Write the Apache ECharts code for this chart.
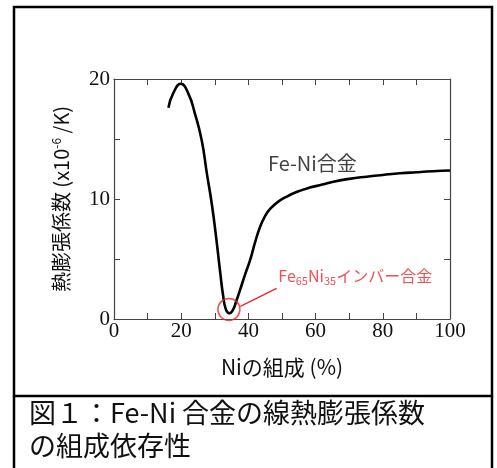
<!DOCTYPE html>
<html><head><meta charset="utf-8">
<script src="https://cdn.jsdelivr.net/npm/echarts@6/dist/echarts.min.js"></script>
<style>html,body{margin:0;padding:0;background:#fff}#c{width:497px;height:468px}</style>
</head><body><div id="c"></div>
<script>
// Ni composition (%) and thermal expansion coefficient (x10^-6 /K)
const niPercent = [16.2, 17.6, 19.9, 22.1, 24.1, 26.1, 27.6, 29.1, 30.4, 31.6, 32.5, 33.3, 34.3, 35.3, 36.4, 37.5, 39, 40.5, 42, 43.5, 45, 46.4, 48.5, 51.4, 54.5, 58.3, 62, 65.3, 70, 75.2, 80, 85.1, 90, 95, 100];
const cte       = [17.6, 18.8, 19.6, 18.8, 17.1, 14.9, 12.2, 9.6, 6.8, 3.9, 1.9, 0.8, 0.47, 0.7, 1.5, 2.4, 3.7, 4.9, 6.4, 7.7, 8.6, 9.15, 9.7, 10.2, 10.6, 10.95, 11.2, 11.44, 11.68, 11.86, 12.0, 12.14, 12.23, 12.31, 12.37];
const xTicks = [0, 20, 40, 60, 80, 100];
const yTicks = [0, 10, 20];
const invarPoint = [34.2, 0.8];
const leader = [[37.6, 1.05], [48.4, 2.55]];
const invarLabelPos = [48.9, 3.55];
const feNiLabelPos = [45.8, 12.97];
const titleLines = ['図１：Fe-Ni 合金の線熱膨張係数', 'の組成依存性'];

const chart = echarts.init(document.getElementById('c'), null, {renderer: 'canvas'});
const serif = 'Liberation Serif';
const sans = 'Noto Sans CJK JP';
const axisCol = '#444';
const baseAxis = {
  type: 'value', min: 0,
  axisLine: {show: true, onZero: false, lineStyle: {color: axisCol, width: 1.2}},
  axisTick: {show: true, inside: true, length: 6, lineStyle: {color: axisCol, width: 1}},
  minorTick: {show: true, splitNumber: 2, length: 6, lineStyle: {color: axisCol, width: 1}},
  splitLine: {show: false}
};
chart.setOption({
  animation: false,
  backgroundColor: '#fff',
  grid: {left: 114, right: 47, top: 79, bottom: 149},
  xAxis: [
    Object.assign({}, baseAxis, {
      max: 100, interval: 20, position: 'bottom',
      axisLabel: {color: '#111', fontFamily: serif, fontSize: 21, margin: 2, formatter: v => xTicks.includes(v) ? String(v) : ''},
      name: 'Niの組成 (%)', nameLocation: 'middle', nameGap: 38,
      nameTextStyle: {color: '#111', fontFamily: sans, fontSize: 21}
    }),
    Object.assign({}, baseAxis, {max: 100, interval: 20, position: 'top', axisLabel: {show: false}})
  ],
  yAxis: [
    Object.assign({}, baseAxis, {
      max: 20, interval: 10, position: 'left',
      axisLabel: {color: '#111', fontFamily: serif, fontSize: 21, margin: 4, formatter: v => yTicks.includes(v) ? String(v) : ''},
      name: '{t|熱膨張係数 (x10}{s|-6}{t| /K)}', nameLocation: 'middle', nameGap: 42, nameRotate: 90,
      nameTextStyle: {rich: {t: {fontFamily: sans, fontSize: 20, color: '#111'}, s: {fontFamily: sans, fontSize: 12, color: '#111', verticalAlign: 'top', padding: [0,0,10,0]}}}
    }),
    Object.assign({}, baseAxis, {max: 20, interval: 10, position: 'right', axisLabel: {show: false}})
  ],
  series: [
    {type: 'line', data: niPercent.map((x, i) => [x, cte[i]]), smooth: 0.5, showSymbol: false,
     lineStyle: {color: '#000', width: 2.6}, z: 3},
    {type: 'scatter', data: [invarPoint], symbol: 'circle', symbolSize: 22,
     itemStyle: {color: 'rgba(0,0,0,0)', borderColor: '#e8262b', borderWidth: 1.5}, z: 4},
    {type: 'line', data: leader, showSymbol: false, lineStyle: {color: '#e8262b', width: 1.3}, z: 4},
    {type: 'scatter', data: [invarLabelPos], symbolSize: 0,
     label: {show: true, position: 'right', distance: 0, formatter: '{a|Fe}{s|65}{a|Ni}{s|35}{a|インバー合金}',
       rich: {a: {fontFamily: sans, fontSize: 16, color: '#e8262b'}, s: {fontFamily: sans, fontSize: 11, color: '#e8262b', verticalAlign: 'bottom', padding: [8,0,0,0]}}}},
    {type: 'scatter', data: [feNiLabelPos], symbolSize: 0,
     label: {show: true, position: 'right', distance: 0, formatter: 'Fe-Ni合金', fontFamily: sans, fontSize: 20, color: '#111'}}
  ],
  graphic: [
    {type: 'rect', shape: {x: 14, y: 7, width: 478, height: 389}, style: {fill: 'none', stroke: '#000', lineWidth: 2.5}, silent: true},
    {type: 'line', shape: {x1: 14, y1: 396, x2: 14, y2: 468}, style: {stroke: '#000', lineWidth: 2.5}},
    {type: 'line', shape: {x1: 492, y1: 396, x2: 492, y2: 468}, style: {stroke: '#000', lineWidth: 2.5}},
    {type: 'text', left: 29, top: 399, style: {text: titleLines[0], font: '27px "Noto Sans CJK JP"', fill: '#111'}},
    {type: 'text', left: 29, top: 432, style: {text: titleLines[1], font: '27px "Noto Sans CJK JP"', fill: '#111'}}
  ]
});
</script></body></html>
